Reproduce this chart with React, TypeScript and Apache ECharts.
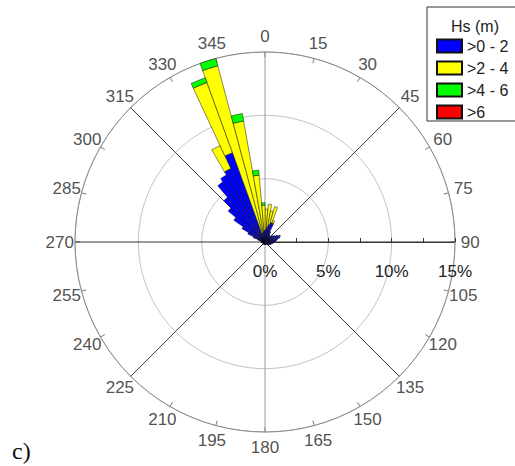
import React, { useEffect, useRef } from 'react';
import * as echarts from 'echarts';

// 5-degree direction bins (bin start, degrees clockwise from north)
const directionBins = Array.from({ length: 72 }, (_, i) => String(i * 5));

// Percent of occurrence for each Hs class, per 5-degree bin (0-5, 5-10, ... 355-360)
const hs0to2 = [
  1.0, 1.2, 1.4, 1.6, 1.6, 0.9, 0.7, 0.6, 0.6, 0.7, 0.8, 0.9,
  1.1, 1.3, 1.2, 1.0, 0.9, 0.8, 0.7, 0.6, 0.6, 0.5, 0.5, 0.4,
  0.4, 0.3, 0.3, 0.3, 0.3, 0.2, 0.2, 0.2, 0.2, 0.2, 0.2, 0.2,
  0.2, 0.2, 0.2, 0.2, 0.2, 0.2, 0.2, 0.2, 0.2, 0.2, 0.2, 0.2,
  0.2, 0.2, 0.2, 0.2, 0.3, 0.3, 0.3, 0.3, 0.4, 0.6, 1.0, 1.5,
  2.1, 3.0, 3.8, 4.6, 5.8, 6.1, 6.4, 7.5, 0.7, 0.8, 0.9, 0.9,
];
const hs2to4 = [
  1.6, 1.8, 1.1, 1.3, 0.2, 0, 0, 0, 0, 0, 0, 0,
  0, 0, 0, 0, 0, 0, 0, 0, 0, 0, 0, 0,
  0, 0, 0, 0, 0, 0, 0, 0, 0, 0, 0, 0,
  0, 0, 0, 0, 0, 0, 0, 0, 0, 0, 0, 0,
  0, 0, 0, 0, 0, 0, 0, 0, 0, 0, 0, 0,
  0, 0, 0, 0, 0, 0, 2.0, 5.9, 13.7, 8.9, 4.4, 2.0,
];
const hs4to6 = [
  0, 0, 0, 0, 0, 0, 0, 0, 0, 0, 0, 0,
  0, 0, 0, 0, 0, 0, 0, 0, 0, 0, 0, 0,
  0, 0, 0, 0, 0, 0, 0, 0, 0, 0, 0, 0,
  0, 0, 0, 0, 0, 0, 0, 0, 0, 0, 0, 0,
  0, 0, 0, 0, 0, 0, 0, 0, 0, 0, 0, 0,
  0, 0, 0, 0, 0, 0, 0, 0.4, 0.8, 0.6, 0.4, 0.2,
];
const hsOver6 = [
  0, 0, 0, 0, 0, 0, 0, 0, 0, 0, 0, 0,
  0, 0, 0, 0, 0, 0, 0, 0, 0, 0, 0, 0,
  0, 0, 0, 0, 0, 0, 0, 0, 0, 0, 0, 0,
  0, 0, 0, 0, 0, 0, 0, 0, 0, 0, 0, 0,
  0, 0, 0, 0, 0, 0, 0, 0, 0, 0, 0, 0,
  0, 0, 0, 0, 0, 0, 0, 0, 0, 0, 0, 0,
];

const classNames = ['>0 - 2', '>2 - 4', '>4 - 6', '>6'];
const classColors = ['#0000FF', '#FFFF00', '#00FF00', '#FF0000'];
const classValues = [hs0to2, hs2to4, hs4to6, hsOver6];

const angleTicks = [0, 15, 30, 45, 60, 75, 90, 105, 120, 135, 150, 165, 180, 195, 210, 225, 240, 255, 270, 285, 300, 315, 330, 345];
const angleTickLabels = ['0', '15', '30', '45', '60', '75', '90', '105', '120', '135', '150', '165', '180', '195', '210', '225', '240', '255', '270', '285', '300', '315', '330', '345'];
const radiusMax = 15;
const radiusLabelTicks = [0, 5, 10, 15];

const FONT = '"Liberation Sans", Arial, sans-serif';

export default function App() {
  const ref = useRef<HTMLDivElement>(null);
  useEffect(() => {
    if (!ref.current) return;
    const chart = echarts.init(ref.current, undefined, { renderer: 'svg' });
    const center = [265, 242];
    const radius = 190;
    const hidden = { axisLine: { show: false }, axisTick: { show: false }, axisLabel: { show: false }, splitLine: { show: false } };

    const barSeries = classNames.map((name, k) => ({
      type: 'bar',
      name,
      coordinateSystem: 'polar',
      polarIndex: 0,
      stack: 'hs',
      barCategoryGap: '0%',
      data: classValues[k].map((v) => (v > 0 ? v : '-')),
      itemStyle: { color: classColors[k], borderColor: '#111', borderWidth: 0.5 },
      silent: true,
      z: 3,
    }));

    const option: any = {
      animation: false,
      backgroundColor: '#ffffff',
      polar: [0, 1, 2, 3].map(() => ({ center, radius })),
      angleAxis: [
        { polarIndex: 0, type: 'category', data: directionBins, startAngle: 90, clockwise: true, boundaryGap: true, ...hidden },
        {
          polarIndex: 1, type: 'value', min: 0, max: 360, interval: 15, startAngle: 90, clockwise: true,
          axisLine: { show: true, lineStyle: { color: '#8a8a8a', width: 1 } },
          axisTick: { show: true, inside: true, length: 5, lineStyle: { color: '#777' } },
          axisLabel: { show: false }, splitLine: { show: false },
        },
        {
          polarIndex: 2, type: 'value', min: 0, max: 360, interval: 45, startAngle: 90, clockwise: true,
          axisLine: { show: false }, axisTick: { show: false }, axisLabel: { show: false },
          splitLine: { show: true, lineStyle: { color: ['#9a9a9a', '#3a3a3a', '#333', '#3a3a3a', '#9a9a9a', '#3a3a3a', '#333', '#3a3a3a'], width: 1 } },
        },
        { polarIndex: 3, type: 'value', min: 0, max: 360, startAngle: 0, ...hidden },
      ],
      radiusAxis: [
        { polarIndex: 0, type: 'value', min: 0, max: radiusMax, ...hidden },
        {
          polarIndex: 1, type: 'value', min: 0, max: radiusMax, interval: 5,
          axisLine: { show: false }, axisTick: { show: false }, axisLabel: { show: false },
          splitLine: { show: true, lineStyle: { color: '#c4c4c4', width: 1 } },
        },
        { polarIndex: 2, type: 'value', min: 0, max: radiusMax, ...hidden },
        {
          polarIndex: 3, type: 'value', min: 0, max: radiusMax, interval: 2.5,
          axisLine: { show: true, lineStyle: { color: '#333', width: 1 } },
          axisTick: { show: true, length: 4, lineStyle: { color: '#333' } },
          axisLabel: {
            show: true, margin: -38, fontSize: 17, color: '#222', fontFamily: FONT,
            formatter: (v: number) => (radiusLabelTicks.indexOf(v) >= 0 ? v + '%' : ''),
          },
          splitLine: { show: false },
        },
      ],
      legend: {
        data: classNames,
        orient: 'vertical',
        left: 427,
        top: 7,
        itemWidth: 25,
        itemHeight: 13,
        itemGap: 6,
        padding: [31, 45, 1, 9],
        borderColor: '#333',
        borderWidth: 1,
        icon: 'rect',
        selectedMode: false,
        textStyle: { fontSize: 16, color: '#222', fontFamily: FONT },
      },
      graphic: [
        { type: 'text', x: 475, y: 26, style: { text: 'Hs (m)', align: 'center', verticalAlign: 'middle', fontSize: 16, fontFamily: FONT, fill: '#222' } },
        { type: 'text', x: 12, y: 451, style: { text: 'c)', align: 'left', verticalAlign: 'middle', fontSize: 24, fontFamily: '"Liberation Serif", "Times New Roman", serif', fill: '#111' } },
      ],
      series: [
        ...barSeries,
        {
          type: 'scatter',
          coordinateSystem: 'polar',
          polarIndex: 1,
          clip: false,
          silent: true,
          symbolSize: 0.1,
          itemStyle: { color: 'transparent' },
          data: angleTicks.map((a) => [16.2, a]),
          label: {
            show: true,
            position: 'inside',
            formatter: (p: any) => angleTickLabels[p.dataIndex],
            fontSize: 17,
            color: '#222',
            fontFamily: FONT,
          },
        },
      ],
    };
    chart.setOption(option);
    return () => chart.dispose();
  }, []);
  return <div ref={ref} style={{ position: 'fixed', left: 0, top: 0, width: 515, height: 466 }} />;
}
